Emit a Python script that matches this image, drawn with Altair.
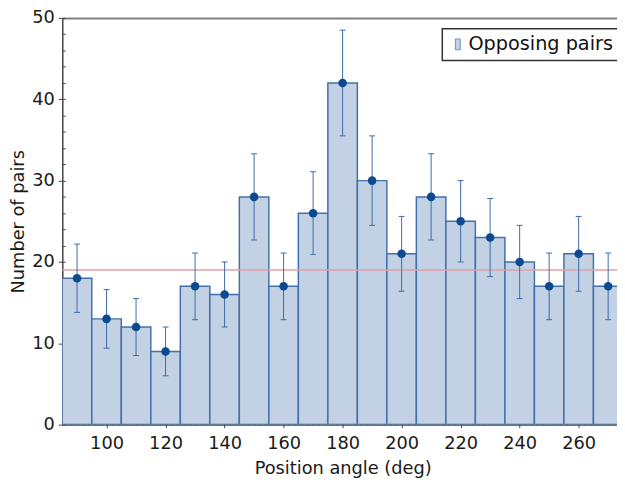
import altair as alt
import pandas as pd

# Histogram of position angles (bin centres, deg)
centers = [90, 100, 110, 120, 130, 140, 150, 160, 170, 180,
           190, 200, 210, 220, 230, 240, 250, 260, 270]
counts = [18, 13, 12, 9, 17, 16, 28, 17, 26, 42,
          30, 21, 28, 25, 23, 20, 17, 21, 17]
errors = [4.2, 3.6, 3.5, 3.0, 4.1, 4.0, 5.3, 4.1, 5.1, 6.5,
          5.5, 4.6, 5.3, 5.0, 4.8, 4.5, 4.1, 4.6, 4.1]
bin_width = 10
reference_level = [19]
series_name = "Opposing pairs"

x_ticks = [100, 120, 140, 160, 180, 200, 220, 240, 260]
y_ticks = [0, 10, 20, 30, 40, 50]
x_minor = list(range(86, 275, 2))
y_minor = list(range(0, 51, 2))

df = pd.DataFrame({
    "center": centers,
    "count": counts,
    "err": errors,
})
df["lo"] = df["center"] - bin_width / 2
df["hi"] = df["center"] + bin_width / 2
df["elo"] = df["count"] - df["err"]
df["ehi"] = df["count"] + df["err"]
df["series"] = series_name

FONT = "DejaVu Sans"
xs = alt.Scale(domain=[85, 275], nice=False, zero=False)
ys = alt.Scale(domain=[0, 50], nice=False)

base = alt.Chart(df)

bars = base.mark_bar(stroke="#4270ab", strokeWidth=1.5, opacity=1,
                     clip=True).encode(
    x=alt.X("lo:Q", scale=xs, title="Position angle (deg)",
            axis=alt.Axis(values=x_ticks, tickSize=3, labelPadding=7,
                          titlePadding=8, grid=False)),
    x2="hi:Q",
    y=alt.Y("count:Q", scale=ys, title="Number of pairs",
            axis=alt.Axis(values=y_ticks, tickSize=4, labelPadding=4,
                          titlePadding=4, grid=False)),
    y2=alt.datum(0),
    color=alt.Color("series:N", scale=alt.Scale(range=["#c2d1e3"]),
                    legend=alt.Legend(title=None, orient="none",
                                      legendX=385, legendY=11,
                                      symbolType="M-0.45,-1H0.45V1H-0.45Z",
                                      symbolSize=121,
                                      symbolStrokeColor="#6f93c0",
                                      symbolStrokeWidth=1,
                                      labelFontSize=19.5,
                                      labelOffset=1,
                                      padding=6,
                                      strokeColor="#333333",
                                      fillColor="white")),
)

err_rules = base.mark_rule(color="#3d6ca8", strokeWidth=1).encode(
    x=alt.X("center:Q", scale=xs,
            axis=alt.Axis(values=x_minor, labels=False, domain=False,
                          tickSize=3, offset=-3, orient="bottom",
                          title=None, grid=False)),
    y=alt.Y("elo:Q", scale=ys, axis=None),
    y2="ehi:Q",
)

cap_top = base.mark_tick(orient="horizontal", size=6, thickness=1,
                         color="#3d6ca8", opacity=1).encode(
    x=alt.X("center:Q", scale=xs, axis=None),
    y=alt.Y("ehi:Q", scale=ys, axis=None))
cap_bot = base.mark_tick(orient="horizontal", size=6, thickness=1,
                         color="#3d6ca8", opacity=1).encode(
    x=alt.X("center:Q", scale=xs,
            axis=alt.Axis(orient="top", labels=False, ticks=False,
                          domain=True, domainColor="#808080",
                          domainWidth=2, title=None, grid=False)),
    y=alt.Y("elo:Q", scale=ys, axis=None))

points = base.mark_point(filled=True, size=75, color="#0c4a8f",
                         opacity=1).encode(
    x=alt.X("center:Q", scale=xs, axis=None),
    y=alt.Y("count:Q", scale=ys, axis=None))

hline = alt.Chart(pd.DataFrame({"v": reference_level})).mark_rule(
    color="#e1a0a8", strokeWidth=1.5).encode(
    y=alt.Y("v:Q", scale=ys,
            axis=alt.Axis(values=y_minor, labels=False, domain=False,
                          tickSize=3, offset=-3, orient="left",
                          title=None, grid=False)))

chart = alt.layer(bars, hline, err_rules, cap_top, cap_bot, points).resolve_axis(
    x="independent", y="independent"
).properties(
    width=617, height=470,
    padding={"left": 2, "right": -7, "top": -2, "bottom": -3},
    autosize=alt.AutoSizeParams(type="fit", contains="padding"),
).configure_view(
    strokeWidth=0
).configure_axis(
    labelFont=FONT, titleFont=FONT, labelFontSize=18, titleFontSize=18,
    labelColor="#1a1a1a", titleColor="#1a1a1a", titleFontWeight="normal",
    domainColor="#444444", domainWidth=1.5, tickColor="#444444",
).configure_legend(
    labelFont=FONT, labelColor="#111111", strokeWidth=1.5
)

chart.save("out.html", embed_options={"renderer": "svg", "actions": False})
